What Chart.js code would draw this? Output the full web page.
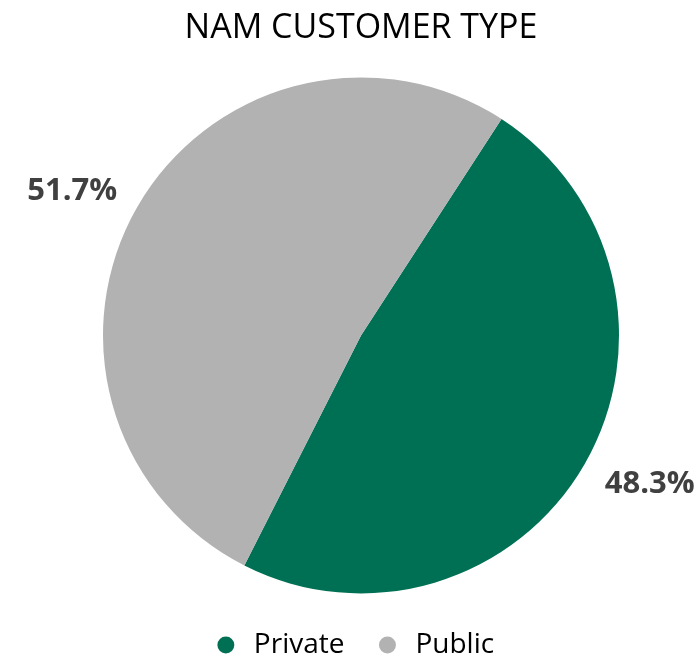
<!DOCTYPE html>
<html>
<head>
<meta charset="utf-8">
<title>NAM Customer Type</title>
<script src="https://cdn.jsdelivr.net/npm/chart.js@4/dist/chart.umd.min.js"></script>
<style>
  html, body { margin: 0; padding: 0; background: #fff; }
  #wrap { width: 699px; height: 657px; }
</style>
</head>
<body>
<div id="wrap"><canvas id="myChart" width="699" height="657"></canvas></div>
<script>
const chartTitle = 'NAM CUSTOMER TYPE';
const labels = ['Private', 'Public'];
const shares = [48.3, 51.7];
const sliceColors = ['#007054', '#b2b2b2'];

// percentage labels sit just outside the rim, pushed away along each slice's mid angle
const outsideLabels = {
  id: 'outsideLabels',
  afterDatasetsDraw(chart) {
    const ctx = chart.ctx;
    const meta = chart.getDatasetMeta(0);
    ctx.save();
    ctx.font = 'bold 31px "Open Sans"';
    ctx.fillStyle = '#404040';
    ctx.textBaseline = 'alphabetic';
    meta.data.forEach((arc, i) => {
      const p = arc.getProps(['x', 'y', 'startAngle', 'endAngle', 'outerRadius'], true);
      const mid = (p.startAngle + p.endAngle) / 2 - 0.015;
      const dx = Math.cos(mid), dy = Math.sin(mid);
      const r = p.outerRadius + 21;
      const ax = p.x + dx * r, ay = p.y + dy * r;
      const text = shares[i].toFixed(1) + '%';
      const m = ctx.measureText(text);
      const h = m.actualBoundingBoxAscent;
      ctx.textAlign = dx < 0 ? 'right' : 'left';
      ctx.fillText(text, ax, dy < 0 ? ay : ay + h);
    });
    ctx.restore();
  }
};

// legend row sits a little left of the pie centre
const legendShift = {
  id: 'legendShift',
  afterLayout(chart) {
    chart.legend.left -= 8;
    chart.legend.right -= 8;
  }
};

const ctx = document.getElementById('myChart').getContext('2d');
const myPieChart = new Chart(ctx, {
  type: 'pie',
  data: {
    labels: labels,
    datasets: [{
      data: shares,
      backgroundColor: sliceColors,
      borderWidth: 0,
      radius: 258
    }]
  },
  options: {
    responsive: false,
    animation: false,
    rotation: 33,
    layout: { padding: { left: 23, right: 0, top: 0, bottom: -12 } },
    plugins: {
      title: {
        display: true,
        text: chartTitle,
        color: '#000',
        font: { family: '"Open Sans"', size: 34, weight: 'normal' },
        padding: { top: 8, bottom: 20 }
      },
      legend: {
        position: 'bottom',
        labels: {
          usePointStyle: true,
          pointStyle: 'circle',
          boxWidth: 28,
          boxHeight: 12,
          padding: 29,
          color: '#000',
          font: { family: '"Open Sans"', size: 28 }
        }
      },
      tooltip: { enabled: false }
    }
  },
  plugins: [outsideLabels, legendShift]
});
</script>
</body>
</html>
